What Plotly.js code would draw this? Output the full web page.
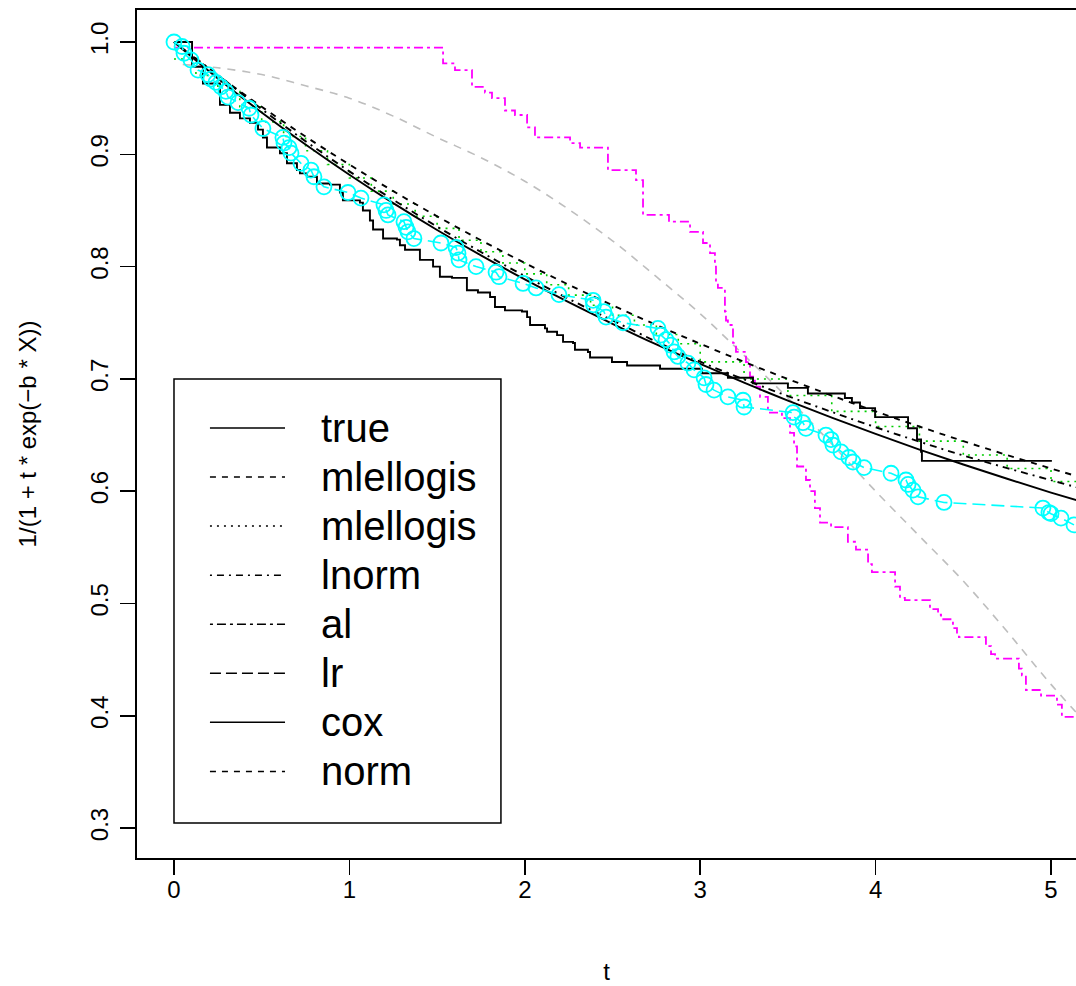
<!DOCTYPE html>
<html>
<head>
<meta charset="utf-8">
<script src="https://cdn.plot.ly/plotly-3.0.1.min.js"></script>
<style>html,body{margin:0;padding:0;background:#fff;}#chart{width:1076px;height:986px;}</style>
</head>
<body>
<div id="chart"></div>
<script>
// ---------- data ----------
const xTicks = [0, 1, 2, 3, 4, 5];
const xTickLabels = ["0", "1", "2", "3", "4", "5"];
const yTicks = [0.3, 0.4, 0.5, 0.6, 0.7, 0.8, 0.9, 1.0];
const yTickLabels = ["0.3", "0.4", "0.5", "0.6", "0.7", "0.8", "0.9", "1.0"];

const legendLabels = ["true", "mlellogis", "mlellogis", "lnorm", "al", "lr", "cox", "norm"];

// smooth curves on a t grid
const tGrid = [0, 0.25, 0.5, 0.75, 1.0, 1.25, 1.5, 1.75, 2.0, 2.25, 2.5, 2.75, 3.0, 3.25, 3.5, 3.75, 4.0, 4.25, 4.5, 4.75, 5.0, 5.25];
const trueY = [1, 0.9676, 0.9372, 0.9087, 0.8818, 0.8565, 0.8326, 0.8100, 0.7886, 0.7683, 0.7491, 0.7307, 0.7133, 0.6966, 0.6807, 0.6656, 0.6510, 0.6371, 0.6238, 0.6111, 0.5988, 0.5870];
const mlellogisY = [1, 0.9703, 0.9423, 0.9158, 0.8909, 0.8672, 0.8448, 0.8235, 0.8032, 0.7839, 0.7656, 0.7480, 0.7313, 0.7152, 0.6999, 0.6852, 0.6711, 0.6576, 0.6446, 0.6322, 0.6202, 0.6086];
const lnormY = [1, 0.9706, 0.9402, 0.9117, 0.8848, 0.8595, 0.8356, 0.8130, 0.7916, 0.7713, 0.7521, 0.7332, 0.7153, 0.6996, 0.6847, 0.6706, 0.6570, 0.6441, 0.6318, 0.6206, 0.6098, 0.5990];

// second mlellogis: step function (green dotted)
const mlellogis2T = [0, 0.125, 0.25, 0.375, 0.5, 0.625, 0.75, 0.875, 1.0, 1.125, 1.25, 1.375, 1.5, 1.625, 1.75, 1.875, 2.0, 2.125, 2.25, 2.375, 2.5, 2.625, 2.75, 2.875, 3.0, 3.25, 3.5, 3.75, 4.0, 4.25, 4.5, 4.75, 5.0, 5.25];
const mlellogis2Y = [0.9849, 0.9703, 0.9561, 0.9423, 0.9289, 0.9158, 0.9032, 0.8909, 0.8789, 0.8672, 0.8558, 0.8448, 0.8340, 0.8235, 0.8132, 0.8032, 0.7935, 0.7839, 0.7746, 0.7656, 0.7567, 0.7480, 0.7395, 0.7313, 0.7152, 0.6999, 0.6852, 0.6711, 0.6576, 0.6446, 0.6322, 0.6202, 0.6086, 0.6086];

// al (cyan, points joined by long dashes)
const alT = [0, 0.046, 0.057, 0.097, 0.137, 0.194, 0.211, 0.239, 0.268, 0.296, 0.308, 0.365, 0.428, 0.439, 0.507, 0.621, 0.627, 0.656, 0.667, 0.724, 0.781, 0.798, 0.855, 0.992, 1.066, 1.197, 1.209, 1.220, 1.311, 1.323, 1.334, 1.368, 1.522, 1.608, 1.619, 1.625, 1.722, 1.836, 1.853, 1.990, 2.064, 2.195, 2.389, 2.392, 2.451, 2.463, 2.560, 2.759, 2.776, 2.805, 2.833, 2.851, 2.873, 2.930, 2.965, 3.022, 3.033, 3.079, 3.158, 3.244, 3.250, 3.529, 3.535, 3.586, 3.603, 3.717, 3.746, 3.757, 3.803, 3.848, 3.871, 3.934, 4.088, 4.173, 4.185, 4.213, 4.242, 4.390, 4.954, 4.988, 5.000, 5.057, 5.131];
const alY = [1.0, 0.996, 0.990, 0.984, 0.975, 0.971, 0.967, 0.964, 0.960, 0.956, 0.951, 0.946, 0.941, 0.935, 0.923, 0.915, 0.910, 0.906, 0.901, 0.892, 0.886, 0.880, 0.871, 0.866, 0.861, 0.855, 0.850, 0.846, 0.840, 0.835, 0.831, 0.825, 0.821, 0.817, 0.812, 0.806, 0.800, 0.795, 0.791, 0.785, 0.781, 0.775, 0.770, 0.766, 0.760, 0.755, 0.750, 0.745, 0.739, 0.735, 0.730, 0.724, 0.720, 0.714, 0.708, 0.701, 0.695, 0.690, 0.684, 0.681, 0.675, 0.670, 0.666, 0.661, 0.656, 0.650, 0.646, 0.641, 0.635, 0.630, 0.626, 0.621, 0.616, 0.610, 0.606, 0.601, 0.595, 0.590, 0.585, 0.581, 0.580, 0.576, 0.570];

// lr (magenta step)
const lrT = [0, 1.534, 1.602, 1.699, 1.773, 1.813, 1.887, 1.944, 2.013, 2.058, 2.258, 2.315, 2.474, 2.634, 2.674, 2.822, 2.942, 3.016, 3.056, 3.084, 3.090, 3.101, 3.141, 3.147, 3.158, 3.187, 3.204, 3.261, 3.284, 3.312, 3.341, 3.386, 3.466, 3.512, 3.535, 3.552, 3.603, 3.626, 3.654, 3.683, 3.746, 3.842, 3.888, 3.957, 3.979, 4.111, 4.139, 4.167, 4.310, 4.356, 4.373, 4.441, 4.464, 4.475, 4.629, 4.658, 4.681, 4.817, 4.834, 4.857, 4.943, 5.034, 5.062, 5.3];
const lrY = [0.995, 0.981, 0.975, 0.960, 0.955, 0.950, 0.939, 0.935, 0.924, 0.915, 0.910, 0.906, 0.886, 0.877, 0.846, 0.840, 0.831, 0.821, 0.812, 0.800, 0.785, 0.781, 0.760, 0.752, 0.748, 0.732, 0.724, 0.715, 0.702, 0.693, 0.684, 0.670, 0.665, 0.652, 0.640, 0.622, 0.610, 0.600, 0.585, 0.572, 0.568, 0.555, 0.548, 0.535, 0.528, 0.515, 0.505, 0.503, 0.495, 0.490, 0.486, 0.478, 0.474, 0.470, 0.462, 0.455, 0.451, 0.442, 0.436, 0.423, 0.418, 0.410, 0.399, 0.399];

// cox (black step)
const coxT = [0, 0.103, 0.165, 0.262, 0.319, 0.376, 0.433, 0.479, 0.507, 0.530, 0.604, 0.644, 0.701, 0.718, 0.758, 0.815, 0.889, 0.946, 0.963, 1.060, 1.077, 1.117, 1.135, 1.192, 1.271, 1.288, 1.317, 1.402, 1.477, 1.516, 1.585, 1.670, 1.733, 1.802, 1.830, 1.887, 1.984, 2.013, 2.030, 2.115, 2.127, 2.184, 2.218, 2.275, 2.286, 2.360, 2.372, 2.497, 2.583, 2.771, 3.010, 3.158, 3.301, 3.500, 3.614, 3.825, 3.865, 3.911, 3.997, 4.185, 4.236, 4.259, 4.264, 5.005];
const coxY = [1.0, 0.978, 0.963, 0.944, 0.937, 0.932, 0.928, 0.922, 0.915, 0.906, 0.901, 0.892, 0.886, 0.883, 0.880, 0.874, 0.873, 0.866, 0.859, 0.857, 0.850, 0.841, 0.833, 0.825, 0.824, 0.819, 0.815, 0.806, 0.800, 0.791, 0.790, 0.779, 0.777, 0.773, 0.764, 0.761, 0.760, 0.755, 0.748, 0.745, 0.742, 0.739, 0.733, 0.732, 0.726, 0.724, 0.719, 0.715, 0.712, 0.709, 0.705, 0.701, 0.696, 0.692, 0.687, 0.683, 0.679, 0.674, 0.666, 0.656, 0.646, 0.635, 0.627, 0.627];

// norm (grey dashed curve)
const normT = [0.05, 0.25, 0.5, 0.75, 1.0, 1.25, 1.5, 1.75, 2.0, 2.25, 2.5, 2.75, 3.0, 3.25, 3.5, 3.75, 4.0, 4.25, 4.5, 4.75, 5.0, 5.25];
const normY = [0.980, 0.977, 0.971, 0.961, 0.950, 0.934, 0.915, 0.897, 0.876, 0.851, 0.823, 0.791, 0.758, 0.721, 0.683, 0.642, 0.600, 0.560, 0.520, 0.475, 0.428, 0.385];

// ---------- styles ----------
const FONT = "Liberation Sans, Arial, Helvetica, sans-serif";
const DASH = {
  solid: "solid",
  dashed: "6px,6px",
  dotted: "2px,5px",
  dotdash: "2px,5px,7px,5px",
  twodash: "3px,4px,9px,4px",
  longdash: "11px,5px"
};
const legendDash = [DASH.solid, DASH.dashed, DASH.dotted, DASH.dotdash, DASH.twodash, DASH.longdash, DASH.solid, DASH.dashed];

const traces = [
  {x: normT, y: normY, name: "norm", mode: "lines",
   line: {color: "#BEBEBE", width: 1.6, dash: "8px,7px", shape: "spline"}},
  {x: lrT, y: lrY, name: "lr", mode: "lines",
   line: {color: "#FF00FF", width: 1.8, dash: "9px,4px,3px,4px", shape: "hv"}},
  {x: mlellogis2T, y: mlellogis2Y, name: "mlellogis", mode: "lines",
   line: {color: "#00CD00", width: 1.6, dash: DASH.dotted, shape: "hv"}},
  {x: coxT, y: coxY, name: "cox", mode: "lines",
   line: {color: "black", width: 1.9, shape: "hv"}},
  {x: tGrid, y: lnormY, name: "lnorm", mode: "lines",
   line: {color: "black", width: 1.9, dash: DASH.dotdash, shape: "spline"}},
  {x: tGrid, y: mlellogisY, name: "mlellogis", mode: "lines",
   line: {color: "black", width: 1.9, dash: DASH.dashed, shape: "spline"}},
  {x: tGrid, y: trueY, name: "true", mode: "lines",
   line: {color: "black", width: 1.9, shape: "spline"}},
  {x: alT, y: alY, name: "al", mode: "lines+markers",
   line: {color: "#00FFFF", width: 1.6, dash: "13px,6px"},
   marker: {symbol: "circle-open", size: 15, color: "#00FFFF", line: {color: "#00FFFF", width: 1.8}}}
];

// ---------- legend (drawn in data coordinates, like R's legend(0, 0.7, ...)) ----------
const legBox = {x0: 0, x1: 1.864, y0: 0.3045, y1: 0.7};
const legLineX = [0.205, 0.633];
const legTextX = 0.826;
const legRowTop = 0.6563, legRowStep = 0.04369;

const shapes = [{
  type: "rect", xref: "x", yref: "y",
  x0: legBox.x0, x1: legBox.x1, y0: legBox.y0, y1: legBox.y1,
  line: {color: "black", width: 1.5}, fillcolor: "white", layer: "above"
}];
const annotations = [];
legendLabels.forEach((lab, i) => {
  const yy = legRowTop - i * legRowStep;
  shapes.push({type: "line", xref: "x", yref: "y", x0: legLineX[0], x1: legLineX[1], y0: yy, y1: yy,
    line: {color: "black", width: 1.5, dash: legendDash[i]}, layer: "above"});
  annotations.push({xref: "x", yref: "y", x: legTextX, y: yy, text: lab, showarrow: false,
    xanchor: "left", yanchor: "middle", font: {family: FONT, size: 40, color: "black"}});
});

const layout = {
  width: 1076, height: 986,
  margin: {l: 137, r: 0, t: 10, b: 128, pad: 0},
  paper_bgcolor: "white", plot_bgcolor: "white",
  showlegend: false,
  font: {family: FONT, size: 24, color: "black"},
  xaxis: {
    range: [-0.2109, 5.1425], tickmode: "array", tickvals: xTicks, ticktext: xTickLabels,
    ticks: "outside", ticklen: 15, tickwidth: 1.5, tickcolor: "black",
    ticklabelstandoff: -6,
    showline: true, mirror: true, linecolor: "black", linewidth: 1.8,
    showgrid: false, zeroline: false, automargin: false,
    tickfont: {family: FONT, size: 24, color: "black"},
    title: {text: "t", font: {family: FONT, size: 24, color: "black"}, standoff: 62}
  },
  yaxis: {
    range: [0.27338, 1.0285], tickmode: "array", tickvals: yTicks, ticktext: yTickLabels,
    tickangle: -90,
    ticks: "outside", ticklen: 15, tickwidth: 1.5, tickcolor: "black",
    ticklabelstandoff: 3,
    showline: true, mirror: false, linecolor: "black", linewidth: 1.8,
    showgrid: false, zeroline: false, automargin: false,
    tickfont: {family: FONT, size: 24, color: "black"},
    title: {text: "1/(1 + t * exp(\u2212b * X))", font: {family: FONT, size: 24, color: "black"}, standoff: 42}
  },
  shapes: shapes,
  annotations: annotations
};

Plotly.newPlot("chart", traces, layout, {displayModeBar: false, staticPlot: true});
</script>
</body>
</html>
